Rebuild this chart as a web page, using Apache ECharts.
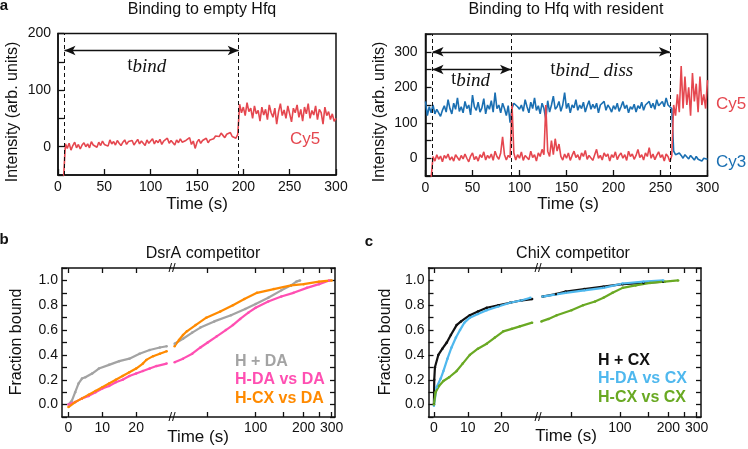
<!DOCTYPE html>
<html><head><meta charset="utf-8">
<script src="https://cdn.jsdelivr.net/npm/echarts@6/dist/echarts.min.js"></script>
<style>html,body{margin:0;padding:0;background:#fff}#c{width:748px;height:449px}</style>
</head><body><div id="c"></div>
<script>
// ---------- data ----------
const timeStep = 2; // s between samples of the traces
// Panel a (left): Cy5 trace, binding to empty Hfq (t = 0,2,...,300)
const cy5Empty = [
 null,null,null,-55,5,-3,6,-6,2,8,
 -2,4,-4,3,7,0,5,-2,9,3,
 6,-1,8,2,10,4,7,1,12,5,
 9,3,11,6,2,8,12,4,9,6,
 11,3,8,13,5,10,7,2,12,6,
 9,14,5,11,7,13,4,10,8,15,
 6,11,9,3,12,7,14,8,5,11,
 9,16,4,10,-3,8,13,6,11,9,
 15,7,12,10,14,19,22,18,24,20,
 16,22,19,25,18,21,15,22,75,60,
 70,55,78,62,68,50,72,58,64,45,
 70,56,66,48,74,60,52,68,40,62,
 76,55,65,50,72,58,44,68,60,74,
 52,66,45,70,58,76,50,64,56,72,
 48,66,60,40,70,55,62,48,58,45,
 50];
// Panel a (right): Cy3 and Cy5 traces, Hfq with resident
const cy3Resident = [
 160,120,145,128,150,125,138,142,118,135,
 148,130,165,140,125,155,138,170,132,145,
 128,160,140,150,122,178,145,135,158,130,
 142,168,125,150,138,162,130,185,140,150,
 128,155,140,120,148,100,140,155,160,145,
 138,150,132,165,145,128,158,140,170,135,
 148,125,155,140,110,162,130,150,175,138,
 145,160,132,150,185,140,155,128,150,142,
 165,135,150,140,158,130,148,162,138,152,
 140,155,128,150,145,160,135,150,142,130,
 148,138,155,132,145,160,140,150,128,145,
 138,152,130,148,140,158,135,150,145,160,
 142,155,138,165,148,152,160,145,170,150,
 155,140,20,10,5,15,8,0,10,5,
 -2,8,3,-5,5,-3,2,-8,0,-5,
 -3];
const cy5Resident = [
 null,null,null,-55,5,-8,10,-3,6,-10,
 8,0,12,-5,4,-8,10,2,-6,8,
 -2,12,0,-10,6,15,-4,5,-8,10,
 2,18,-5,8,0,12,-6,20,5,-3,
 15,60,10,-5,8,2,155,15,-5,10,
 0,18,-6,8,12,-4,20,2,10,-8,
 15,5,25,10,150,20,5,50,10,55,
 20,40,5,-5,12,0,15,-6,8,20,
 2,10,-5,15,5,22,-3,8,12,-6,
 10,25,0,8,-5,15,5,12,-8,10,
 2,18,-4,8,15,0,10,-6,20,5,
 12,-3,8,25,2,10,-5,15,5,30,
 0,12,-4,8,18,2,10,-8,12,5,
 -10,8,150,120,180,130,260,140,230,150,
 200,120,240,160,210,130,230,150,180,140,
 220];
const eventsEmpty = [7, 195];          // dashed lines (s)
const eventsResident = [7.5, 91, 260]; // dashed lines (s)

// Panel b: DsrA competitor, [time (s), fraction bound]
const hPlusDA = [[0,0],[1,0.03],[2,0.1],[3,0.17],[4,0.21],[5,0.22],[7,0.25],[9,0.29],[12,0.32],[15,0.35],[18,0.37],[21,0.41],[24,0.44],[27,0.46],[29,0.47],
 [31,0.49],[35,0.53],[40,0.58],[45,0.62],[55,0.67],[70,0.72],[86,0.77],[100,0.81],[120,0.86],[145,0.92],[167,0.96],[180,0.99],[190,1.0]];
const hdaVsDA = [[0,0],[2,0.02],[4,0.05],[6,0.07],[8,0.1],[10,0.13],[12,0.15],[14,0.18],[16,0.2],[18,0.23],[20,0.25],[22,0.27],[24,0.29],[26,0.31],[29,0.33],
 [31,0.34],[35,0.37],[40,0.41],[45,0.46],[50,0.5],[57,0.55],[65,0.6],[72,0.64],[80,0.69],[90,0.74],[100,0.78],[120,0.83],[145,0.87],[173,0.9],[210,0.94],[250,0.97],[290,1.0]];
const hcxVsDA = [[0,-0.02],[2,0.02],[4,0.05],[6,0.08],[8,0.11],[10,0.14],[12,0.17],[14,0.2],[16,0.23],[18,0.26],[20,0.29],[22,0.33],[23,0.36],[25,0.39],[27,0.41],[29,0.43],
 [31,0.47],[33,0.52],[35,0.56],[37,0.59],[42,0.64],[49,0.7],[60,0.75],[72,0.8],[85,0.85],[102,0.9],[130,0.93],[167,0.96],[200,0.97],[250,0.99],[300,1.0]];
// Panel c: ChiX competitor
const hPlusCX = [[0,0],[0.1,0.2],[0.3,0.3],[1.3,0.4],[2.5,0.45],[3.8,0.5],[5,0.56],[6.7,0.64],[8,0.67],[10.6,0.72],[13,0.75],[15.6,0.78],[19,0.8],[22.5,0.82],[26,0.84],[29,0.85],
 [33,0.87],[40,0.89],[46,0.91],[60,0.93],[79,0.95],[104,0.97],[140,0.98],[186,0.99]];
const hdaVsCX = [[0,-0.01],[0.8,0.14],[2,0.21],[2.8,0.27],[4,0.37],[5.2,0.46],[6.5,0.54],[7.7,0.6],[9,0.66],[10.6,0.7],[13,0.73],[15.6,0.76],[19,0.79],[22.5,0.82],[26,0.84],[28.5,0.86],
 [33,0.87],[46,0.9],[60,0.92],[79,0.94],[104,0.975],[140,0.99],[186,1.0]];
const hcxVsCX = [[0,0],[0.5,0.1],[1.5,0.15],[2.8,0.19],[4.5,0.22],[6.7,0.27],[8.5,0.33],[10.6,0.4],[13,0.45],[15.6,0.49],[18,0.54],[20.5,0.59],[23,0.61],[25.4,0.63],[29,0.66],
 [32.5,0.67],[36,0.69],[40.5,0.72],[50,0.76],[59,0.8],[70,0.83],[79,0.86],[90,0.9],[104,0.94],[125,0.96],[154,0.98],[190,0.99],[230,1.0]];
const breakTime = 30;
const linTicks = [0, 10, 20];
const logTicks = [50, 100, 150, 200, 250, 300];
const logLabels = [100, 200, 300];

// ---------- helpers ----------
const FONT = 'Liberation Sans, Arial, sans-serif';
const toPairs = arr => arr.map((v, i) => [i * timeStep, v]);
const leftPart = arr => arr.filter(p => p[0] < breakTime);
const rightPart = arr => arr.filter(p => p[0] > breakTime);
const C = {red:'#e5474f', blue:'#1a6fb2', gray:'#a3a3a3', pink:'#ff4fb2', orange:'#ff8a00', black:'#111111', sky:'#4fb8ee', green:'#69a923'};

const axLine = {show:true, onZero:false, lineStyle:{color:'#111', width:1.5}};
const tickA = {show:true, inside:true, length:6, lineStyle:{color:'#111', width:1.3}};
const tickB = {show:true, inside:true, length:5, lineStyle:{color:'#111', width:1.3}};
const lbl = (extra) => Object.assign({color:'#111', fontSize:14, fontFamily:FONT}, extra);

const grids = [
  {left:58, top:33.5, width:278, height:141.5, show:true, borderColor:'#111', borderWidth:1.5},
  {left:425.5, top:34, width:282, height:142, show:true, borderColor:'#111', borderWidth:1.5},
  {left:62, top:268, width:108, height:149},
  {left:170, top:268, width:165, height:149},
  {left:428.5, top:268, width:108, height:149},
  {left:536.5, top:268, width:164.5, height:149}
].map(g => Object.assign({containLabel:false, outerBoundsMode:'none'}, g));

function linX(grid, min, max, top) {
  return {type:'value', gridIndex:grid, min, max, position: top ? 'top' : 'bottom',
    axisLine:axLine, splitLine:{show:false},
    axisTick:Object.assign({customValues:linTicks}, tickB),
    axisLabel:lbl({show:!top, margin:4, customValues:linTicks})};
}
function logX(grid, min, max, top) {
  return {type:'log', logBase:10, gridIndex:grid, min, max, position: top ? 'top' : 'bottom',
    axisLine:axLine, splitLine:{show:false}, minorTick:{show:false},
    axisTick:Object.assign({customValues:logTicks}, tickB),
    axisLabel:lbl({show:!top, margin:4, customValues:logLabels})};
}
const fracFmt = v => { const k = Math.round(v * 10); return (k >= 0 && k % 2 === 0) ? (k / 10).toFixed(1) : ''; };
function fracY(grid, right) {
  return {type:'value', gridIndex:grid, min:-0.1, max:1.1, interval:0.1, position: right ? 'right' : 'left',
    axisLine:axLine, splitLine:{show:false}, axisTick:tickB,
    axisLabel:lbl({show:!right, margin:4, formatter:fracFmt})};
}

const xAxes = [
  {type:'value', gridIndex:0, min:0, max:300, interval:50, axisLine:axLine, splitLine:{show:false}, axisTick:tickA, axisLabel:lbl({margin:5})},
  {type:'value', gridIndex:1, min:0, max:300, interval:50, axisLine:axLine, splitLine:{show:false}, axisTick:tickA, axisLabel:lbl({margin:5})},
  linX(2, -1.9, 30, false), linX(2, -1.9, 30, true),
  logX(3, 29, 315, false), logX(3, 29, 315, true),
  linX(4, -1.6, 30.3, false), linX(4, -1.6, 30.3, true),
  logX(5, 30.3, 319, false), logX(5, 30.3, 319, true)
];
const yAxes = [
  {type:'value', gridIndex:0, min:-50, max:200, interval:50, axisLine:axLine, splitLine:{show:false}, axisTick:tickA,
   axisLabel:lbl({margin:7, formatter: v => (v % 100 === 0 ? String(v) : '')})},
  {type:'value', gridIndex:1, min:-50, max:350, interval:50, axisLine:axLine, splitLine:{show:false}, axisTick:tickA,
   axisLabel:lbl({margin:8, formatter: v => (v % 100 === 0 ? String(v) : '')})},
  fracY(2, false), fracY(3, true), fracY(4, false), fracY(5, true)
];

const dashStyle = {color:'#111', width:1, type:[4,3]};
function vlines(xs) {
  return {silent:true, symbol:['none','none'], label:{show:false}, lineStyle:dashStyle, animation:false,
    data: xs.map(x => ({xAxis:x}))};
}
function arrows(pairs) {
  return {silent:true, symbol:['arrow','arrow'], symbolSize:[7,11], label:{show:false},
    lineStyle:{color:'#111', width:1.3, type:'solid'}, animation:false,
    data: pairs.map(p => [{coord:[p[0], p[2]]}, {coord:[p[1], p[2]]}])};
}
const richT = {
  t:{fontFamily:'Liberation Serif', fontSize:18, color:'#111', verticalAlign:'top', lineHeight:14},
  s:{fontFamily:'Liberation Serif', fontStyle:'italic', fontSize:19, color:'#111', verticalAlign:'bottom', lineHeight:20, padding:[5,0,0,0]}
};
function tLabels(items) {
  return {symbol:'circle', symbolSize:0, silent:true, animation:false,
    label:{show:true, position:'inside', rich:richT},
    data: items.map(it => ({coord:[it[0], it[1]], label:{formatter:'{t|t}{s|' + it[2] + '}'}}))};
}

function trace(name, data, color, xi, yi, extra) {
  return Object.assign({type:'line', name, xAxisIndex:xi, yAxisIndex:yi, data:toPairs(data), showSymbol:false,
    symbol:'none', lineStyle:{color, width:1.6}, itemStyle:{color}, connectNulls:false, animation:false, silent:true}, extra || {});
}
function curve(name, data, color, xi, yi) {
  return {type:'line', name, xAxisIndex:xi, yAxisIndex:yi, data, showSymbol:true, symbol:'circle', symbolSize:2.5,
    lineStyle:{color, width:2.2}, itemStyle:{color}, animation:false, silent:true};
}

const series = [
  trace('Cy5 empty', cy5Empty, C.red, 0, 0, {markLine: vlines(eventsEmpty)}),
  {type:'line', xAxisIndex:0, yAxisIndex:0, data:[], markLine: arrows([[eventsEmpty[0], eventsEmpty[1], 170]]),
   markPoint: tLabels([[96, 142, 'bind']])},
  trace('Cy3 resident', cy3Resident, C.blue, 1, 1, {markLine: vlines(eventsResident)}),
  trace('Cy5 resident', cy5Resident, C.red, 1, 1),
  {type:'line', xAxisIndex:1, yAxisIndex:1, data:[],
   markLine: arrows([[eventsResident[0], eventsResident[2], 300], [eventsResident[0], eventsResident[1], 250]]),
   markPoint: tLabels([[48, 219, 'bind'], [177, 248, 'bind_ diss']])},
  curve('H + DA', leftPart(hPlusDA), C.gray, 2, 2),
  curve('H-DA vs DA', leftPart(hdaVsDA), C.pink, 2, 2),
  curve('H-CX vs DA', leftPart(hcxVsDA), C.orange, 2, 2),
  curve('H + DA', rightPart(hPlusDA), C.gray, 4, 3),
  curve('H-DA vs DA', rightPart(hdaVsDA), C.pink, 4, 3),
  curve('H-CX vs DA', rightPart(hcxVsDA), C.orange, 4, 3),
  curve('H + CX', leftPart(hPlusCX), C.black, 6, 4),
  curve('H-DA vs CX', leftPart(hdaVsCX), C.sky, 6, 4),
  curve('H-CX vs CX', leftPart(hcxVsCX), C.green, 6, 4),
  curve('H + CX', rightPart(hPlusCX), C.black, 8, 5),
  curve('H-DA vs CX', rightPart(hdaVsCX), C.sky, 8, 5),
  curve('H-CX vs CX', rightPart(hcxVsCX), C.green, 8, 5)
];

function txt(text, x, y, opt) {
  opt = opt || {};
  return {type:'text', x, y, rotation: opt.rot || 0, silent:true,
    style:{text, fill: opt.color || '#111', font: (opt.weight || 'normal') + ' ' + (opt.size || 16) + 'px ' + FONT,
      textAlign: opt.align || 'center', textVerticalAlign: 'middle'}};
}
const graphic = [
  txt('a', 4, 6, {weight:'bold', size:15}),
  txt('b', 4, 240, {weight:'bold', size:15}),
  txt('c', 369, 242, {weight:'bold', size:15}),
  txt('Binding to empty Hfq', 202, 10),
  txt('Binding to Hfq with resident', 566, 10),
  txt('Intensity (arb. units)', 12.5, 112, {rot:Math.PI/2}),
  txt('Intensity (arb. units)', 379.5, 112, {rot:Math.PI/2}),
  txt('Time (s)', 197, 204, {size:17}),
  txt('Time (s)', 568, 204, {size:17}),
  txt('Cy5', 290, 139, {color:C.red, size:17, align:'left'}),
  txt('Cy5', 716, 104, {color:C.red, size:17, align:'left'}),
  txt('Cy3', 716, 162, {color:C.blue, size:17, align:'left'}),
  txt('DsrA competitor', 203, 254),
  txt('ChiX competitor', 573, 254),
  txt('Fraction bound', 16.5, 342, {rot:Math.PI/2}),
  txt('Fraction bound', 385.5, 342, {rot:Math.PI/2}),
  txt('Time (s)', 198, 437, {size:17}),
  txt('Time (s)', 566, 436, {size:17}),
  txt('//', 172, 268, {size:13}), txt('//', 172, 417, {size:13}),
  txt('//', 538, 268, {size:13}), txt('//', 538, 417, {size:13}),
  txt('H + DA', 235, 362, {weight:'bold', color:C.gray, align:'left'}),
  txt('H-DA vs DA', 235, 380, {weight:'bold', color:C.pink, align:'left'}),
  txt('H-CX vs DA', 235, 398.5, {weight:'bold', color:C.orange, align:'left'}),
  txt('H + CX', 598, 360.5, {weight:'bold', color:C.black, align:'left'}),
  txt('H-DA vs CX', 598, 379, {weight:'bold', color:C.sky, align:'left'}),
  txt('H-CX vs CX', 598, 397.5, {weight:'bold', color:C.green, align:'left'})
];

const chart = echarts.init(document.getElementById('c'), null, {renderer:'canvas'});
chart.setOption({
  backgroundColor:'#ffffff', animation:false,
  textStyle:{fontFamily:FONT},
  grid:grids, xAxis:xAxes, yAxis:yAxes, series, graphic
});
</script></body></html>
